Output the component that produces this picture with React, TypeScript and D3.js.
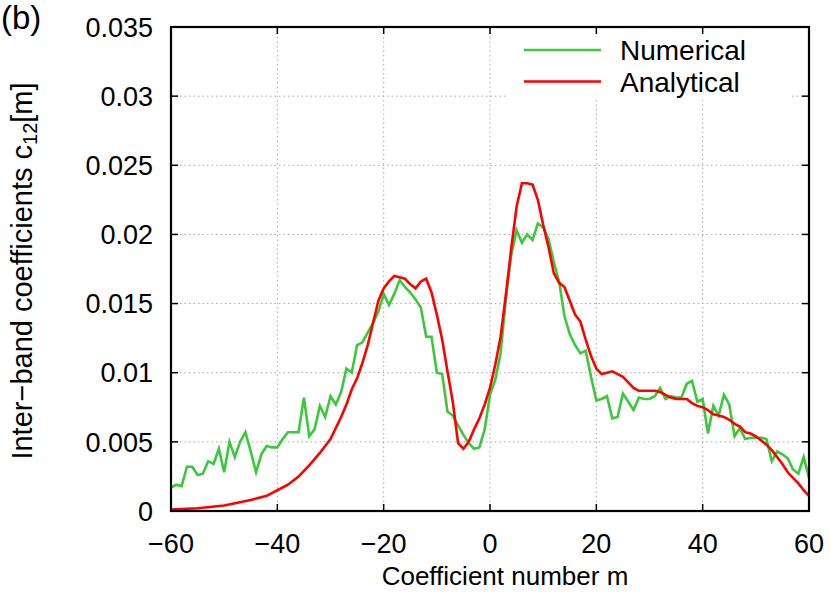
import React from 'react';
import * as d3 from 'd3';

// coefficient numbers m for the numerical series (one point per integer m)
const numericalM = d3.range(-60, 61);
const numericalC = [
  0.0017, 0.0019, 0.0018, 0.0032, 0.0032, 0.0026, 0.0027, 0.0036, 0.0034, 0.0045,
  0.0028, 0.0050, 0.0039, 0.0050, 0.0057, 0.0043, 0.0028, 0.0041, 0.0047, 0.0046,
  0.0046, 0.0052, 0.0057, 0.0057, 0.0057, 0.0082, 0.0054, 0.0059, 0.0076, 0.0068,
  0.0083, 0.0077, 0.0086, 0.0103, 0.0100, 0.0120, 0.0122, 0.0129, 0.0136, 0.0144,
  0.0157, 0.0149, 0.0157, 0.0167, 0.0162, 0.0158, 0.0153, 0.0147, 0.0126, 0.0126,
  0.0100, 0.0099, 0.0072, 0.0069, 0.0062, 0.0055, 0.0049, 0.0045, 0.0046, 0.0059,
  0.0084, 0.0095, 0.0114, 0.0154, 0.0185, 0.0203, 0.0194, 0.0200, 0.0196, 0.0208,
  0.0205, 0.0197, 0.0180, 0.0166, 0.0141, 0.0128, 0.0120, 0.0114, 0.0116, 0.0097,
  0.0080, 0.0081, 0.0083, 0.0067, 0.0068, 0.0085, 0.0079, 0.0073, 0.0082, 0.0081,
  0.0081, 0.0083, 0.0089, 0.0081, 0.0083, 0.0082, 0.0082, 0.0092, 0.0094, 0.0079,
  0.0081, 0.0056, 0.0076, 0.0069, 0.0084, 0.0077, 0.0054, 0.0060, 0.0052, 0.0053,
  0.0053, 0.0053, 0.0052, 0.0036, 0.0043, 0.0041, 0.0038, 0.0030, 0.0027, 0.0039,
  0.0024,
];

// analytical curve
const analyticalM = [
  -60, -55, -50, -45, -42, -40, -38, -36, -34, -32, -30, -28, -27, -26, -25, -24, -23, -22, -21,
  -20, -19, -18, -17, -16, -15, -14, -13, -12, -11, -10, -9, -8, -7, -6, -5, -4, -3, -2, -1,
  0, 1, 2, 3, 4, 5, 6, 7, 8, 9, 10, 11, 12, 13, 14, 15, 16, 17, 18, 19,
  20, 21, 22, 23, 24, 25, 26, 27, 28, 29, 30, 31, 32, 33, 34, 35, 36, 37, 38, 39,
  40, 41, 42, 43, 44, 45, 46, 47, 48, 49, 50, 51, 52, 53, 54, 55, 56, 57, 58, 59, 60,
];
const analyticalC = [
  0.0001, 0.0002, 0.0004, 0.0008, 0.0011, 0.0015, 0.0019, 0.0025, 0.0033, 0.0042, 0.0052, 0.0068, 0.0077, 0.0088, 0.0096, 0.0107, 0.0120, 0.0136, 0.0152,
  0.0161, 0.0166, 0.0170, 0.0169, 0.0168, 0.0164, 0.0161, 0.0166, 0.0168, 0.0158, 0.0142, 0.0124, 0.0101, 0.0079, 0.0049, 0.0045, 0.0050, 0.0059, 0.0067, 0.0077,
  0.0089, 0.0106, 0.0126, 0.0157, 0.0190, 0.0220, 0.0237, 0.0237, 0.0236, 0.0225, 0.0207, 0.0191, 0.0172, 0.0165, 0.0162, 0.0152, 0.0142, 0.0137, 0.0124, 0.0112,
  0.0103, 0.0099, 0.0100, 0.0101, 0.0099, 0.0097, 0.0093, 0.0089, 0.0087, 0.0087, 0.0087, 0.0087, 0.0086, 0.0084, 0.0082, 0.0081, 0.0081, 0.0081, 0.0078, 0.0076,
  0.0075, 0.0073, 0.0070, 0.0069, 0.0068, 0.0066, 0.0063, 0.0061, 0.0057, 0.0056, 0.0054, 0.0051, 0.0048, 0.0044, 0.0039, 0.0034, 0.0028, 0.0024, 0.0020, 0.0015, 0.0011,
];

const xTicks = [-60, -40, -20, 0, 20, 40, 60];
const yTicks = [0, 0.005, 0.01, 0.015, 0.02, 0.025, 0.03, 0.035];
const yTickLabels = ['0', '0.005', '0.01', '0.015', '0.02', '0.025', '0.03', '0.035'];

const seriesNames = ['Numerical', 'Analytical'];
const seriesColors = ['#3cc83c', '#ff0000'];

const W = 830;
const H = 595;
const margin = { top: 27, right: 21, bottom: 84, left: 171 };
const FONT = '"Liberation Sans", Arial, Helvetica, sans-serif';

export default function App() {
  const x = d3.scaleLinear().domain([-60, 60]).range([margin.left, W - margin.right]);
  const y = d3.scaleLinear().domain([0, 0.035]).range([H - margin.bottom, margin.top]);
  const [x0, x1] = x.range();
  const [yb, yt] = y.range();
  const tick = 7;

  const line = d3.line<[number, number]>()
    .x(d => x(d[0]))
    .y(d => y(d[1]));

  const numPts = numericalM.map((m, i) => [m, numericalC[i]] as [number, number]);
  const anaPts = analyticalM.map((m, i) => [m, analyticalC[i]] as [number, number]);

  return (
    <svg width={W} height={H} style={{ position: 'absolute', left: 0, top: 0, background: '#fff' }}
      fontFamily={FONT}>
      {/* grid */}
      <g stroke="#a8a8a8" strokeWidth={1} strokeDasharray="1.5,3">
        {xTicks.slice(1, -1).map(t => (
          <line key={'gx' + t} x1={x(t)} x2={x(t)} y1={yb} y2={yt} />
        ))}
        {yTicks.slice(1, -1).map(t => (
          <line key={'gy' + t} x1={x0} x2={x1} y1={y(t)} y2={y(t)} />
        ))}
      </g>

      {/* key background */}
      <rect x={508} y={yt} width={284} height={71} fill="#fff" />

      {/* curves */}
      <path d={line(numPts) ?? ''} fill="none" stroke={seriesColors[0]} strokeWidth={2.6} strokeLinejoin="miter" />
      <path d={line(anaPts) ?? ''} fill="none" stroke={seriesColors[1]} strokeWidth={2.6} strokeLinejoin="miter" />

      {/* ticks, mirrored */}
      <g stroke="#000" strokeWidth={1.5}>
        {xTicks.map(t => (
          <g key={'tx' + t}>
            <line x1={x(t)} x2={x(t)} y1={yb} y2={yb - tick} />
            <line x1={x(t)} x2={x(t)} y1={yt} y2={yt + tick} />
          </g>
        ))}
        {yTicks.map(t => (
          <g key={'ty' + t}>
            <line x1={x0} x2={x0 + tick} y1={y(t)} y2={y(t)} />
            <line x1={x1} x2={x1 - tick} y1={y(t)} y2={y(t)} />
          </g>
        ))}
      </g>

      {/* frame */}
      <rect x={x0} y={yt} width={x1 - x0} height={yb - yt} fill="none" stroke="#000" strokeWidth={2.2} />

      {/* tick labels */}
      <g fontSize={27} fill="#000">
        {xTicks.map(t => (
          <text key={'lx' + t} x={x(t)} y={553} textAnchor="middle">
            {t < 0 ? '\u2212' + Math.abs(t) : String(t)}
          </text>
        ))}
        {yTicks.map((t, i) => (
          <text key={'ly' + t} x={153} y={y(t)} dy="0.36em" textAnchor="end">
            {yTickLabels[i]}
          </text>
        ))}
      </g>

      {/* axis titles */}
      <text x={505} y={585} fontSize={26} textAnchor="middle">Coefficient number m</text>
      <text transform={`translate(32,${(yb + yt) / 2 + 2}) rotate(-90)`} fontSize={29} textAnchor="middle">
        {'Inter\u2212band coefficients c'}
        <tspan fontSize={20} dy={5}>12</tspan>
        <tspan dy={-5}>[m]</tspan>
      </text>
      <text x={1} y={29} fontSize={33}>(b)</text>

      {/* key */}
      {seriesNames.map((name, i) => (
        <g key={name}>
          <line x1={524} x2={601} y1={50 + i * 31.5} y2={50 + i * 31.5} stroke={seriesColors[i]} strokeWidth={2.6} />
          <text x={620} y={50 + i * 31.5} dy="0.36em" fontSize={28}>{name}</text>
        </g>
      ))}
    </svg>
  );
}
